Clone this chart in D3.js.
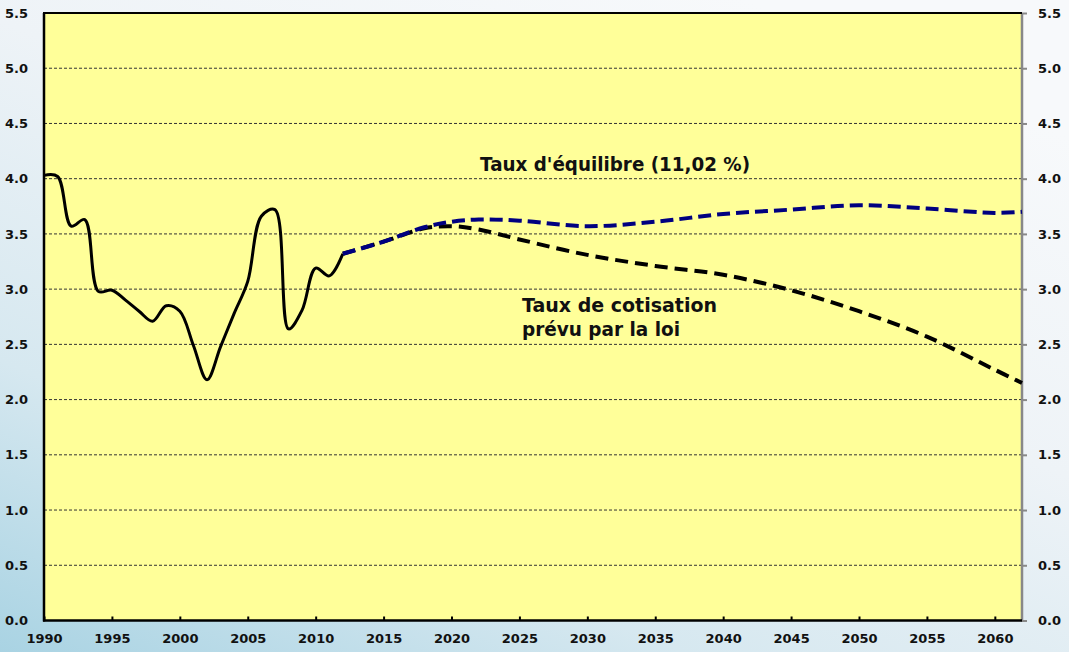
<!DOCTYPE html>
<html>
<head>
    <meta charset="utf-8">
    <script src="https://d3js.org/d3.v7.min.js"></script>
    <style>
        body { margin: 0; }
        text { font-family: "DejaVu Sans", sans-serif; font-weight: bold; }
    </style>
</head>
<body>
    <div id="chart"></div>
    <script>
        // historical rate (solid)
        var histYears = [1990, 1991, 1992, 1993, 1994, 1995, 1996, 1997, 1998, 1999, 2000, 2001,
                         2002, 2003, 2004, 2005, 2006, 2007, 2008, 2009, 2010, 2011, 2012];
        var histValues = [4.03, 4.02, 3.57, 3.63, 2.98, 2.99, 2.90, 2.80, 2.71, 2.85, 2.80, 2.49,
                          2.18, 2.48, 2.78, 3.07, 3.66, 3.72, 2.64, 2.81, 3.19, 3.12, 3.32];

        // projections (dashed)
        var projYears = [2012, 2015, 2018, 2020, 2022, 2025, 2030, 2035, 2040, 2045, 2050, 2055, 2060, 2062];
        var equilibreValues = [3.32, 3.43, 3.56, 3.61, 3.63, 3.62, 3.57, 3.61, 3.68, 3.72, 3.76, 3.73, 3.69, 3.70];
        var cotisationValues = [3.32, 3.43, 3.55, 3.57, 3.54, 3.45, 3.31, 3.21, 3.13, 2.99, 2.80, 2.57, 2.27, 2.15];

        var yTicks = [0, 0.5, 1, 1.5, 2, 2.5, 3, 3.5, 4, 4.5, 5, 5.5];
        var xTicks = [1990, 1995, 2000, 2005, 2010, 2015, 2020, 2025, 2030, 2035, 2040, 2045, 2050, 2055, 2060];

        var width = 1069, height = 652;
        var plotL = 44, plotR = 1022, plotT = 13, plotB = 620.5;

        var svg = d3.select("#chart")
            .append("svg")
            .attr("width", width)
            .attr("height", height);

        // background gradient
        var defs = svg.append("defs");
        var grad = defs.append("linearGradient")
            .attr("id", "bg")
            .attr("x1", "0%").attr("y1", "100%")
            .attr("x2", "70%").attr("y2", "0%");
        grad.append("stop").attr("offset", "0%").attr("stop-color", "#a9d3e3");
        grad.append("stop").attr("offset", "30%").attr("stop-color", "#d6e8f0");
        grad.append("stop").attr("offset", "65%").attr("stop-color", "#eef3f7");
        grad.append("stop").attr("offset", "100%").attr("stop-color", "#f7f9fb");
        svg.append("rect")
            .attr("width", width)
            .attr("height", height)
            .attr("fill", "url(#bg)");

        var x = d3.scaleLinear().domain([1990, 2062]).range([plotL, plotR]);
        var y = d3.scaleLinear().domain([0, 5.5]).range([plotB, plotT]);

        // plot area
        svg.append("rect")
            .attr("x", plotL)
            .attr("y", plotT)
            .attr("width", plotR - plotL)
            .attr("height", plotB - plotT)
            .attr("fill", "#ffff99");

        // grid lines
        svg.append("g")
            .selectAll("line")
            .data(yTicks.filter(function(d) { return d > 0 && d < 5.5; }))
            .enter()
            .append("line")
            .attr("x1", plotL)
            .attr("x2", plotR)
            .attr("y1", function(d) { return y(d); })
            .attr("y2", function(d) { return y(d); })
            .attr("stroke", "#333")
            .attr("stroke-width", 1)
            .attr("stroke-dasharray", "3,2");

        // left axis labels
        var fmt = d3.format(".1f");
        svg.append("g")
            .attr("transform", "translate(" + plotL + ",0)")
            .call(d3.axisLeft(y).tickValues(yTicks).tickFormat(fmt).tickSize(0).tickPadding(16))
            .call(function(g) { g.select(".domain").remove(); })
            .selectAll("text")
            .attr("font-size", 13)
            .attr("fill", "#111");

        // right axis
        var rightAxis = svg.append("g")
            .attr("transform", "translate(" + plotR + ",0)")
            .call(d3.axisRight(y).tickValues(yTicks).tickFormat(fmt).tickSize(5).tickPadding(11));
        rightAxis.select(".domain").remove();
        rightAxis.selectAll("line").attr("stroke", "#888").attr("stroke-width", 2);
        rightAxis.selectAll("text").attr("font-size", 13).attr("fill", "#111");

        // bottom axis (ticks pointing up)
        var bottomAxis = svg.append("g")
            .attr("transform", "translate(0," + plotB + ")")
            .call(d3.axisBottom(x).tickValues(xTicks).tickFormat(d3.format("d")).tickSizeInner(-4).tickSizeOuter(0).tickPadding(13));
        bottomAxis.select(".domain").remove();
        bottomAxis.selectAll("line").attr("stroke", "#000").attr("stroke-width", 2);
        bottomAxis.selectAll("text").attr("font-size", 13).attr("fill", "#111");

        // frame
        svg.append("line").attr("x1", plotR).attr("x2", plotR).attr("y1", plotT).attr("y2", plotB + 1)
            .attr("stroke", "#888").attr("stroke-width", 2.5);
        svg.append("line").attr("x1", plotL - 1).attr("x2", plotR).attr("y1", plotT).attr("y2", plotT)
            .attr("stroke", "#000").attr("stroke-width", 2);
        svg.append("line").attr("x1", plotL).attr("x2", plotL).attr("y1", plotT).attr("y2", plotB + 1)
            .attr("stroke", "#000").attr("stroke-width", 2.5);
        svg.append("line").attr("x1", plotL - 1).attr("x2", plotR).attr("y1", plotB).attr("y2", plotB)
            .attr("stroke", "#000").attr("stroke-width", 2.5);

        var line = d3.line()
            .x(function(d) { return x(d[0]); })
            .y(function(d) { return y(d[1]); })
            .curve(d3.curveCatmullRom.alpha(0.5));

        var hist = d3.zip(histYears, histValues);
        var cotis = d3.zip(projYears, cotisationValues);
        var equil = d3.zip(projYears, equilibreValues);

        svg.append("path")
            .attr("d", line(hist))
            .attr("fill", "none")
            .attr("stroke", "#000")
            .attr("stroke-width", 3);

        svg.append("path")
            .attr("d", line(cotis))
            .attr("fill", "none")
            .attr("stroke", "#000")
            .attr("stroke-width", 4)
            .attr("stroke-dasharray", "13,7");

        svg.append("path")
            .attr("d", line(equil))
            .attr("fill", "none")
            .attr("stroke", "#000080")
            .attr("stroke-width", 4)
            .attr("stroke-dasharray", "13,6");

        // annotations
        svg.append("text")
            .attr("x", 480)
            .attr("y", 170.5)
            .attr("font-size", 19)
            .attr("textLength", 270)
            .attr("lengthAdjust", "spacingAndGlyphs")
            .attr("fill", "#111")
            .text("Taux d'équilibre (11,02 %)");

        svg.append("text")
            .attr("x", 522)
            .attr("y", 311.5)
            .attr("font-size", 19)
            .attr("textLength", 195)
            .attr("lengthAdjust", "spacingAndGlyphs")
            .attr("fill", "#111")
            .text("Taux de cotisation");

        svg.append("text")
            .attr("x", 522)
            .attr("y", 335.5)
            .attr("font-size", 19)
            .attr("textLength", 158)
            .attr("lengthAdjust", "spacingAndGlyphs")
            .attr("fill", "#111")
            .text("prévu par la loi");
    </script>
</body>
</html>
